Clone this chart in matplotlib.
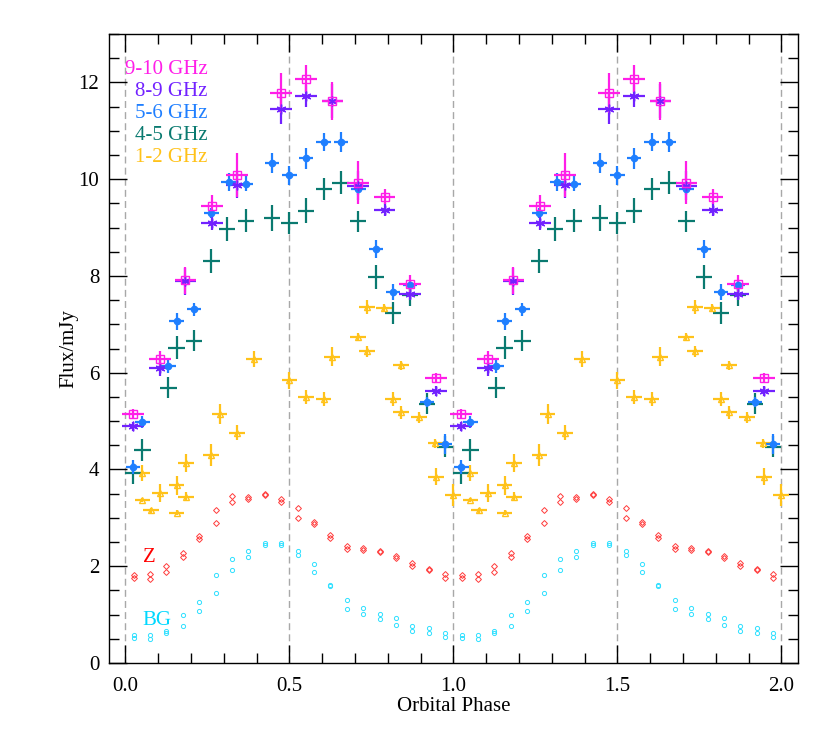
import matplotlib
matplotlib.use('Agg')
import matplotlib.pyplot as plt
import numpy as np

plt.rcParams['font.family'] = ['Liberation Serif', 'DejaVu Serif']
plt.rcParams['font.size'] = 15

# --- data (phase 0-1, repeated at phase+1) ---
# 9-10 GHz
ph_910 = [0.024, 0.105, 0.183, 0.264, 0.340, 0.474, 0.551, 0.631, 0.710, 0.790, 0.868, 0.946]
fx_910 = [5.14, 6.29, 7.91, 9.45, 10.09, 11.78, 12.08, 11.62, 9.93, 9.64, 7.84, 5.89]
er_910 = [0.10, 0.16, 0.28, 0.23, 0.46, 0.42, 0.28, 0.39, 0.45, 0.15, 0.18, 0.10]

# 8-9 GHz
ph_89 = [0.024, 0.105, 0.183, 0.264, 0.340, 0.474, 0.551, 0.631, 0.710, 0.790, 0.868, 0.946]
fx_89 = [4.89, 6.10, 7.89, 9.09, 9.88, 11.46, 11.72, 11.62, 9.87, 9.37, 7.63, 5.62]
er_89 = [0.10, 0.17, 0.28, 0.14, 0.27, 0.32, 0.22, 0.35, 0.30, 0.14, 0.12, 0.10]

# 5-6 GHz
ph_56 = [0.024, 0.052, 0.131, 0.156, 0.210, 0.262, 0.315, 0.367, 0.447, 0.500,
         0.551, 0.604, 0.657, 0.710, 0.764, 0.815, 0.868, 0.920, 0.974]
fx_56 = [4.05, 4.98, 6.14, 7.06, 7.31, 9.30, 9.94, 9.91, 10.33, 10.08,
         10.43, 10.77, 10.77, 9.79, 8.56, 7.67, 7.82, 5.40, 4.53]
er_56 = [0.15, 0.12, 0.14, 0.17, 0.14, 0.10, 0.19, 0.16, 0.21, 0.19,
         0.22, 0.19, 0.20, 0.12, 0.19, 0.16, 0.10, 0.10, 0.21]

# 4-5 GHz
ph_45 = [0.024, 0.052, 0.131, 0.156, 0.210, 0.262, 0.310, 0.367, 0.447, 0.500,
         0.551, 0.605, 0.656, 0.710, 0.764, 0.815, 0.868, 0.920, 0.974]
fx_45 = [3.92, 4.40, 5.69, 6.52, 6.66, 8.31, 8.97, 9.14, 9.19, 9.09,
         9.35, 9.80, 9.93, 9.13, 7.98, 7.24, 7.60, 5.36, 4.47]
er_45 = [0.22, 0.23, 0.22, 0.23, 0.22, 0.24, 0.24, 0.24, 0.27, 0.23,
         0.26, 0.23, 0.24, 0.22, 0.25, 0.23, 0.22, 0.22, 0.22]

# 1-2 GHz
ph_12 = [0.052, 0.052, 0.077, 0.105, 0.156, 0.156, 0.184, 0.184, 0.262, 0.287,
         0.340, 0.393, 0.500, 0.551, 0.604, 0.630, 0.710, 0.736, 0.736, 0.789,
         0.815, 0.840, 0.841, 0.894, 0.945, 0.946, 0.998]
fx_12 = [3.93, 3.37, 3.16, 3.52, 3.67, 3.11, 4.13, 3.44, 4.30, 5.15,
         4.76, 6.28, 5.84, 5.50, 5.46, 6.33, 6.74, 7.36, 6.44, 7.34,
         5.46, 6.15, 5.18, 5.08, 4.54, 3.85, 3.47]
er_12 = [0.17, 0.05, 0.05, 0.19, 0.19, 0.06, 0.19, 0.10, 0.23, 0.21,
         0.15, 0.16, 0.18, 0.15, 0.15, 0.20, 0.08, 0.14, 0.12, 0.08,
         0.14, 0.10, 0.13, 0.11, 0.09, 0.18, 0.22]

# Z and BG, two values per bin
ph_bin = [0.025, 0.075, 0.125, 0.175, 0.225, 0.275, 0.325, 0.375, 0.425, 0.475,
          0.525, 0.575, 0.625, 0.675, 0.725, 0.775, 0.825, 0.875, 0.925, 0.975]
z_a = [1.82, 1.83, 2.00, 2.28, 2.62, 3.17, 3.45, 3.43, 3.50, 3.39,
       3.21, 2.92, 2.65, 2.42, 2.38, 2.31, 2.22, 2.07, 1.94, 1.84]
z_b = [1.76, 1.74, 1.89, 2.20, 2.57, 2.89, 3.33, 3.39, 3.48, 3.32,
       3.00, 2.88, 2.59, 2.35, 2.33, 2.30, 2.18, 2.00, 1.93, 1.76]
bg_a = [0.57, 0.57, 0.67, 1.00, 1.27, 1.81, 2.14, 2.32, 2.48, 2.48,
        2.31, 2.04, 1.62, 1.30, 1.13, 1.01, 0.92, 0.77, 0.72, 0.61]
bg_b = [0.51, 0.50, 0.62, 0.77, 1.08, 1.45, 1.93, 2.20, 2.44, 2.44,
        2.24, 1.89, 1.59, 1.12, 1.02, 0.91, 0.78, 0.66, 0.61, 0.53]

c_910 = '#ff1ee8'
c_89 = '#7222ff'
c_56 = '#1f7fff'
c_45 = '#0a7a70'
c_12 = '#ffc21a'
c_z = '#ff3b3b'
c_bg = '#2ee0ff'


def twice_ph(p):
    p = np.asarray(p)
    return np.concatenate([p, p + 1.0])


def twice(v):
    return np.concatenate([v, v])


fig = plt.figure(figsize=(8.3, 7.33), dpi=100)
ax = fig.add_axes([0.1313, 0.0955, 0.83, 0.858])

for v in [0.0, 0.5, 1.0, 1.5, 2.0]:
    ax.axvline(v, color='#a8a8a8', ls=(0, (5, 3)), lw=1.0, zorder=0)

for zz in (z_a, z_b):
    ax.plot(twice_ph(ph_bin), twice(zz),
            ls='none', marker='D', ms=3.0, mfc='none', mec=c_z, mew=0.7)
for bb in (bg_a, bg_b):
    ax.plot(twice_ph(ph_bin), twice(bb),
            ls='none', marker='o', ms=3.0, mfc='none', mec=c_bg, mew=0.7)

kw = dict(ls='none', elinewidth=1.6, capsize=0)
ax.errorbar(twice_ph(ph_12), twice(fx_12), xerr=0.024, yerr=twice(er_12),
            color=c_12, marker='^', ms=5, mfc='none', mew=1.0, **kw)
ax.errorbar(twice_ph(ph_45), twice(fx_45), xerr=0.025, yerr=twice(er_45),
            color=c_45, marker='', **kw)
ax.errorbar(twice_ph(ph_56), twice(fx_56), xerr=0.022, yerr=twice(er_56),
            color=c_56, marker='o', ms=4.5, **kw)
ax.errorbar(twice_ph(ph_89), twice(fx_89), xerr=0.033, yerr=twice(er_89),
            color=c_89, marker=(6, 2, 0), ms=7, mew=1.0, **kw)
ax.errorbar(twice_ph(ph_910), twice(fx_910), xerr=0.033, yerr=twice(er_910),
            color=c_910, marker='s', ms=5.5, mfc='none', mew=1.0, **kw)

# labels in the upper left
labels = [('9-10 GHz', c_910), ('8-9 GHz', c_89), ('5-6 GHz', c_56),
          ('4-5 GHz', c_45), ('1-2 GHz', c_12)]
for i, (t, c) in enumerate(labels):
    ax.text(0.25, 12.27 - i * 0.455, t, color=c, ha='right', va='center')
ax.text(0.072, 2.19, 'Z', color='red', ha='center', va='center')
ax.text(0.095, 0.88, 'BG', color='#00d8ff', ha='center', va='center')

ax.set_xlim(-0.05, 2.05)
ax.set_ylim(0, 13)
ax.set_xticks([0.0, 0.5, 1.0, 1.5, 2.0])
ax.set_xticklabels(['0.0', '0.5', '1.0', '1.5', '2.0'])
ax.set_xticks(np.arange(0, 2.01, 0.1), minor=True)
ax.set_yticks(np.arange(0, 13, 2))
ax.set_yticks(np.arange(0, 13.01, 0.5), minor=True)
ax.tick_params(which='both', direction='in', top=True, right=True, width=1.0)
ax.tick_params(axis='x', which='major', length=13, pad=10)
ax.tick_params(axis='y', which='major', length=13, pad=7)
ax.tick_params(which='minor', length=7)
for s in ax.spines.values():
    s.set_linewidth(1.0)

ax.set_xlabel('Orbital Phase', labelpad=1)
ax.set_ylabel('Flux/mJy')
ax.yaxis.set_label_coords(-0.045, 0.5)

fig.savefig('out.png', dpi=100)
